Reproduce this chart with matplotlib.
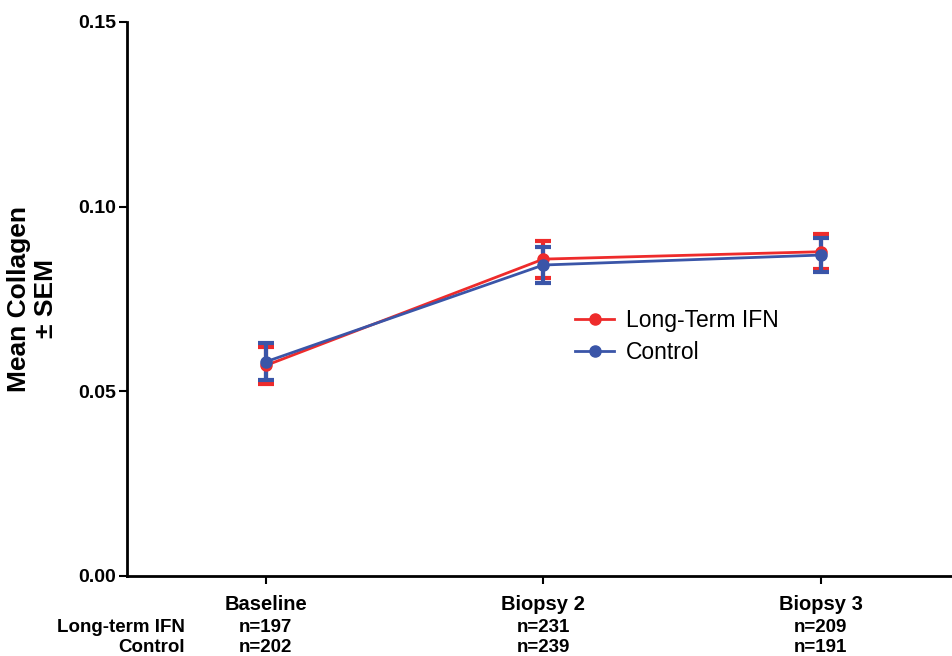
import matplotlib.pyplot as plt
from matplotlib.lines import Line2D

plt.rcParams['font.family'] = ['Liberation Sans', 'DejaVu Sans']

visits = ["Baseline", "Biopsy 2", "Biopsy 3"]
ifn_mean = [0.057, 0.0858, 0.0878]
ifn_sem = [0.0050, 0.0050, 0.0048]
ctrl_mean = [0.058, 0.0842, 0.0869]
ctrl_sem = [0.0050, 0.0050, 0.0047]
ifn_n = [197, 231, 209]
ctrl_n = [202, 239, 191]

red = "#EE2B2B"
blue = "#3A55A8"

fig = plt.figure(figsize=(9.53, 6.56), dpi=100)
ax = fig.add_axes([127 / 953, 80 / 656, 826 / 953, 554 / 656])

x = list(range(len(visits)))
ax.errorbar(x, ifn_mean, yerr=ifn_sem, color=red, lw=2, marker="o", ms=8,
            capsize=6, capthick=3, elinewidth=3)
ax.errorbar(x, ctrl_mean, yerr=ctrl_sem, color=blue, lw=2, marker="o", ms=8,
            capsize=6, capthick=3, elinewidth=3)

ax.set_xlim(-0.5, 2.476)
ax.set_ylim(0, 0.15)
ax.set_yticks([0, 0.05, 0.10, 0.15])
ax.set_yticklabels(["0.00", "0.05", "0.10", "0.15"], fontsize=14, fontweight="bold")
ax.set_xticks(x)
ax.set_xticklabels(visits, fontsize=14.5, fontweight="bold")
ax.tick_params(axis="both", width=1.5, length=6, direction="out")
ax.tick_params(axis="x", pad=8)
ax.tick_params(axis="y", pad=2)
ax.spines["top"].set_visible(False)
ax.spines["right"].set_visible(False)
ax.spines["left"].set_linewidth(2)
ax.spines["bottom"].set_linewidth(2)

ax.set_ylabel("Mean Collagen\n± SEM", fontsize=19, fontweight="bold", labelpad=14)

# n table under the x axis
fig.text(185 / 953, 1 - 627 / 656, "Long-term IFN", ha="right", va="center",
         fontsize=13.5, fontweight="bold")
fig.text(185 / 953, 1 - 648 / 656, "Control", ha="right", va="center",
         fontsize=13.5, fontweight="bold")
for i in x:
    xf = ax.transData.transform((i, 0))[0] / fig.bbox.width
    fig.text(xf, 1 - 627 / 656, "n=%d" % ifn_n[i], ha="center", va="center",
             fontsize=13.5, fontweight="bold")
    fig.text(xf, 1 - 648 / 656, "n=%d" % ctrl_n[i], ha="center", va="center",
             fontsize=13.5, fontweight="bold")

handles = [Line2D([], [], color=red, lw=2, marker="o", ms=8),
           Line2D([], [], color=blue, lw=2, marker="o", ms=8)]
ax.legend(handles, ["Long-Term IFN", "Control"], loc="upper left",
          bbox_to_anchor=(0.518, 0.52), frameon=False,
          fontsize=16.5, handlelength=1.7, handletextpad=0.5, labelspacing=0.4)

fig.savefig("out.png", dpi=100)
